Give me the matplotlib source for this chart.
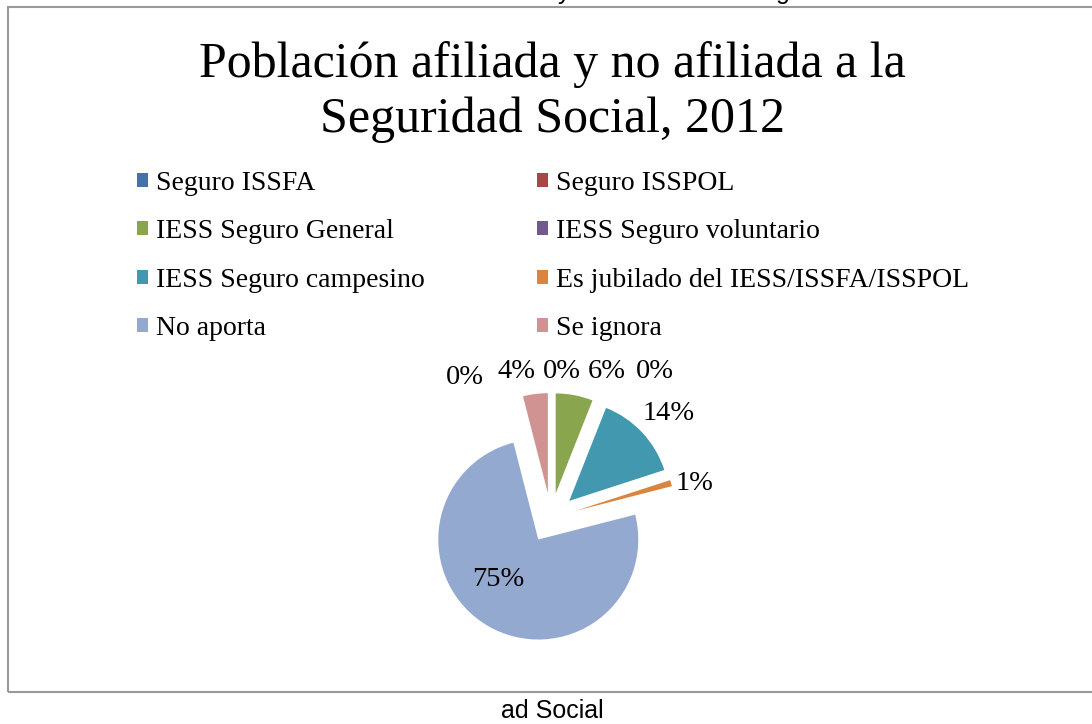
import matplotlib.pyplot as plt
from matplotlib.patches import Rectangle

# Afiliación a la seguridad social, 2012 (porcentaje de la población)
categorias = ['Seguro ISSFA', 'Seguro ISSPOL', 'IESS Seguro General',
              'IESS Seguro voluntario', 'IESS Seguro campesino',
              'Es jubilado del IESS/ISSFA/ISSPOL', 'No aporta', 'Se ignora']
porcentajes = [0, 0, 6, 0, 14, 1, 75, 4]
colores = ['#4572A7', '#AA4643', '#89A54E', '#71588F',
           '#4198AF', '#DB843D', '#93A9CF', '#D19392']

# posiciones de las etiquetas (coordenadas del eje del pastel)
pos_etiquetas = [(-0.86, 1.41), (0.11, 1.46), (0.56, 1.46), (1.04, 1.46),
                 (1.18, 1.04), (1.43, 0.34), (-0.53, -0.62), (-0.34, 1.46)]

W, H = 1092, 724
fig = plt.figure(figsize=(W / 100, H / 100), dpi=100)

serif = ['Liberation Serif', 'DejaVu Serif']
sans = ['Liberation Sans', 'DejaVu Sans']

# marco del gráfico
fig.patches.append(Rectangle((8 / W, (H - 692) / H), 1.2, (692 - 7) / H,
                             transform=fig.transFigure, fill=False,
                             edgecolor='#999999', linewidth=1.5))

# texto del documento cortado arriba y abajo
fig.text(553 / W, (H + 1) / H, 'Gráfico 6 Población afiliada y no afiliada a la Seguridad',
         ha='center', va='baseline', fontsize=18, family=sans)
fig.text(552 / W, (H - 718) / H, 'ad Social', ha='center', va='baseline',
         fontsize=18, family=sans)

fig.text(552 / W, 1 - 92 / H, 'Población afiliada y no afiliada a la\nSeguridad Social, 2012',
         ha='center', va='center', fontsize=36, family=serif, linespacing=1.25)

# pastel: centro (551, 518) px, radio 100 px
cx, cy = 551, 518
ax = fig.add_axes([(cx - 150) / W, (H - cy - 150) / H, 300 / W, 300 / H])
wedges, _ = ax.pie(porcentajes, colors=colores, startangle=90, counterclock=False,
                   explode=[0.25] * len(porcentajes), radius=1.0)
ax.set_xlim(-1.5, 1.5)
ax.set_ylim(-1.5, 1.5)
ax.set_aspect('equal')
ax.axis('off')

for val, (x, y) in zip(porcentajes, pos_etiquetas):
    ax.text(x, y, f'{val}%', ha='center', va='center', fontsize=20.5,
            family=serif, clip_on=False)

# leyenda en dos columnas, llenada por filas
columnas = [([0, 2, 4, 6], 137), ([1, 3, 5, 7], 537)]
for idx, x0 in columnas:
    fig.legend([wedges[i] for i in idx], [categorias[i] for i in idx],
               loc='upper left', bbox_to_anchor=(x0 / W, 1 - 171 / H),
               frameon=False, prop={'family': serif, 'size': 20},
               borderpad=0, borderaxespad=0,
               handlelength=0.4, handleheight=0.4, handletextpad=0.29,
               labelspacing=0.84)

fig.savefig('out.png', dpi=100)
